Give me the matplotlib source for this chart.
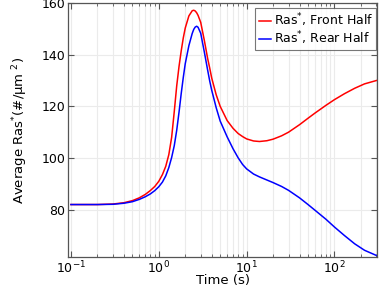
import numpy as np
import matplotlib
matplotlib.use("Agg")
import matplotlib.pyplot as plt
from matplotlib.ticker import LogLocator, NullFormatter

# values
time_s = [0.1, 0.2, 0.3, 0.4, 0.5, 0.6, 0.7, 0.8, 0.9, 1.0, 1.1, 1.2, 1.3, 1.4,
          1.5, 1.6, 1.7, 1.8, 1.9, 2.0, 2.2, 2.4, 2.5, 2.6, 2.7, 2.8, 3.0, 3.3,
          3.6, 3.8, 4.0, 4.5, 5, 6, 7, 8, 9, 10, 12, 14, 17, 20, 25, 30, 40,
          50, 60, 80, 100, 130, 170, 220, 300]
front_half = [82.0, 82.0, 82.2, 82.7, 83.5, 84.6, 85.9, 87.4, 89.0, 91.0, 93.6,
              96.8, 101.3, 108.0, 118.0, 128.0, 135.5, 141.5, 146.5, 150.3,
              155.0, 157.0, 157.2, 156.9, 156.2, 155.2, 152.5, 145.5, 138.5,
              134.8, 131.0, 124.5, 120.0, 114.5, 111.5, 109.5, 108.3, 107.4,
              106.6, 106.4, 106.7, 107.3, 108.6, 110.0, 112.9, 115.4, 117.4,
              120.4, 122.6, 124.9, 127.0, 128.7, 130.0]
rear_half = [82.0, 82.0, 82.1, 82.5, 83.1, 84.0, 85.0, 86.1, 87.4, 88.9, 90.7,
             93.1, 96.3, 100.2, 104.8, 110.8, 117.8, 125.0, 131.2, 136.5,
             143.5, 148.2, 149.8, 150.7, 151.0, 150.6, 148.3, 141.0, 134.0,
             129.8, 126.3, 119.5, 114.3, 108.2, 103.6, 100.1, 97.5, 95.8,
             93.8, 92.7, 91.5, 90.5, 89.0, 87.5, 84.6, 82.0, 79.8, 76.3, 73.3,
             70.0, 66.8, 64.3, 62.3]
y_ticks = [80, 100, 120, 140, 160]

plt.rcParams['font.family'] = ['DejaVu Sans']
fig = plt.figure(figsize=(3.82, 2.86), dpi=100)
ax = fig.add_axes([68/382, 1 - 257/286, (377 - 68)/382, (257 - 3)/286])

ax.plot(time_s, front_half, color='#ff0000', lw=1.1, label='Ras$^{*}$, Front Half')
ax.plot(time_s, rear_half, color='#0000ff', lw=1.1, label='Ras$^{*}$, Rear Half')

ax.set_xscale('log')
ax.set_xlim(0.0925, 305)
ax.set_ylim(61.7, 160)
ax.set_yticks(y_ticks)
ax.xaxis.set_minor_locator(LogLocator(base=10, subs=np.arange(2, 10), numticks=20))
ax.xaxis.set_minor_formatter(NullFormatter())

ax.grid(True, which='major', color='#ebebeb', lw=0.8)
ax.grid(True, which='minor', axis='x', color='#ebebeb', lw=0.8)
ax.set_axisbelow(True)

ax.tick_params(which='both', direction='in', top=True, right=True,
               colors='#555555', labelcolor='black', labelsize=9)
ax.tick_params(which='major', length=4, width=0.8, pad=2)
ax.tick_params(which='minor', length=2.5, width=0.6)
for s in ax.spines.values():
    s.set_color('#555555')
    s.set_linewidth(0.9)

ax.set_xlabel('Time (s)', fontsize=9.5, labelpad=-1.5)
ax.set_ylabel('Average Ras$^{*}$(#/µm $^{2}$)', fontsize=9.5, labelpad=8)

leg = ax.legend(loc='upper right', bbox_to_anchor=(0.998, 0.98), fontsize=9,
                frameon=True, fancybox=False, handlelength=1.0,
                handletextpad=0.2, borderpad=0.25, labelspacing=0.05,
                borderaxespad=0.0)
leg.get_frame().set_edgecolor('#555555')
leg.get_frame().set_linewidth(0.8)

fig.savefig('out.png', dpi=100)
